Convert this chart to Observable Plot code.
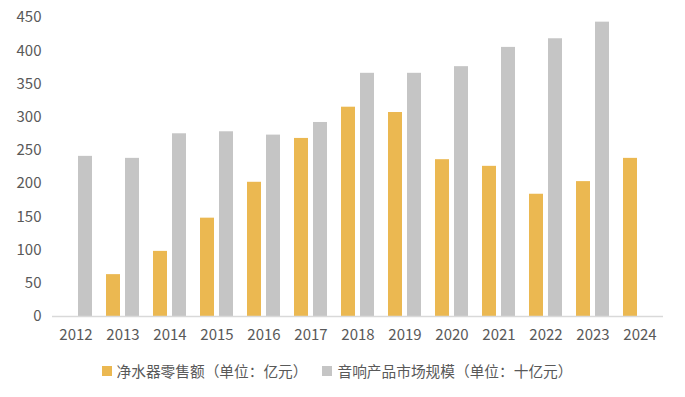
<!DOCTYPE html>
<html>
<head>
<meta charset="utf-8">
<script src="https://cdn.jsdelivr.net/npm/d3@7"></script>
<script src="https://cdn.jsdelivr.net/npm/@observablehq/plot@0.6"></script>
<style>
  body { margin: 0; background: #fff; font-family: "Noto Sans CJK SC", "Noto Sans", sans-serif; }
  #legend { display: flex; justify-content: center; align-items: center; gap: 15px; font-size: 14.7px; color: #595959; padding-right: 11px; margin-top: 8px; }
  .item { display: flex; align-items: center; }
  .sw { width: 10px; height: 10px; margin-right: 5px; display: inline-block; }
</style>
</head>
<body>
<div id="chart"></div>
<script>
const years = ["2012","2013","2014","2015","2016","2017","2018","2019","2020","2021","2022","2023","2024"];
const seriesNames = ["净水器零售额（单位：亿元）", "音响产品市场规模（单位：十亿元）"];
const seriesColors = ["#EBB851", "#C5C5C5"];
const waterPurifierSales = [null, 63, 98, 148, 202, 268, 315, 307, 236, 226, 184, 203, 238];
const audioMarketSize = [241, 238, 275, 278, 273, 292, 366, 366, 376, 405, 418, 443, null];
const yTicks = [0, 50, 100, 150, 200, 250, 300, 350, 400, 450];

const rows = [];
years.forEach((y, i) => {
  if (waterPurifierSales[i] != null) rows.push({year: y, series: seriesNames[0], value: waterPurifierSales[i]});
  if (audioMarketSize[i] != null) rows.push({year: y, series: seriesNames[1], value: audioMarketSize[i]});
});

const chart = Plot.plot({
  width: 685,
  height: 352,
  marginTop: 17,
  marginLeft: 49,
  marginRight: 19,
  marginBottom: 36,
  style: {fontFamily: '"Noto Sans CJK SC", "Noto Sans", sans-serif', fontSize: "15px", color: "#595959", background: "#fff"},
  facet: {data: rows, x: "year"},
  fx: {domain: years, padding: 0, label: null, tickSize: 0, tickPadding: 13},
  x: {domain: seriesNames, axis: null, paddingInner: 0.25, paddingOuter: 0.3125},
  y: {domain: [0, 450], ticks: yTicks, tickSize: 0, tickPadding: 11, label: null},
  color: {domain: seriesNames, range: seriesColors},
  marks: [
    Plot.barY(rows, {x: "series", y: "value", fill: "series"}),
    Plot.ruleY([0], {stroke: "#D9D9D9", strokeWidth: 1.5})
  ]
});
document.getElementById("chart").appendChild(chart);

const legend = document.createElement("div");
legend.id = "legend";
seriesNames.forEach((name, i) => {
  const item = document.createElement("div");
  item.className = "item";
  const sw = document.createElement("span");
  sw.className = "sw";
  sw.style.background = seriesColors[i];
  item.appendChild(sw);
  item.appendChild(document.createTextNode(name));
  legend.appendChild(item);
});
document.body.appendChild(legend);
</script>
</body>
</html>
